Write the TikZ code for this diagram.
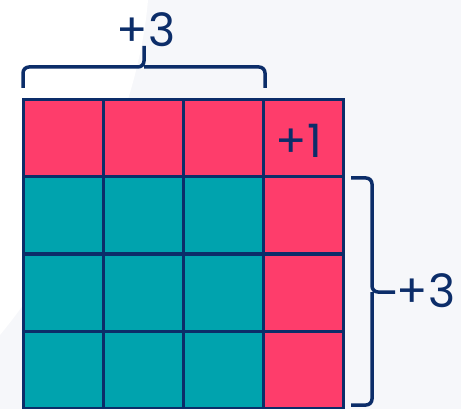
\documentclass[tikz,border=0pt]{standalone}
\usepackage{fontspec}
\setmainfont{Poppins}
\definecolor{navy}{HTML}{0C2D69}
\definecolor{pinkred}{HTML}{FE3D6B}
\definecolor{teal}{HTML}{00A3AE}
\definecolor{paper}{HTML}{F6F7FA}
\begin{document}
\begin{tikzpicture}[x=1pt, y=-1pt, every node/.style={text=navy, font=\fontsize{46}{46}\selectfont}]
\useasboundingbox (0,0) rectangle (461,409);
\fill[paper] (0,0) rectangle (461,409);
\fill[white] (0,0) -- (148,0) .. controls (138,120) and (70,250) .. (0,335) -- cycle;
\fill[pinkred] (23,100) rectangle (343,177);
\fill[pinkred] (263,177) rectangle (343,409);
\fill[teal] (23,177) rectangle (263,409);
\draw[navy, line width=3pt] (23,100) rectangle (343,408);
\draw[navy, line width=3pt] (103,100) -- (103,408);
\draw[navy, line width=3pt] (183,100) -- (183,408);
\draw[navy, line width=3pt] (263,100) -- (263,408);
\draw[navy, line width=3pt] (23,177) -- (343,177);
\draw[navy, line width=3pt] (23,254) -- (343,254);
\draw[navy, line width=3pt] (23,331) -- (343,331);
\draw[navy, line width=3.5pt, rounded corners=6pt] (23,88) -- (23,67) -- (144,67) -- (144,46);
\draw[navy, line width=3.5pt, rounded corners=6pt] (265,88) -- (265,67) -- (144,67);
\draw[navy, line width=3.5pt, rounded corners=6pt] (351,178) -- (372,178) -- (372,292) -- (395,292);
\draw[navy, line width=3.5pt, rounded corners=6pt] (351,405) -- (372,405) -- (372,292);
\node (top) at (146,30) {+3};
\node (corner) at (299,141) {+1};
\node (side) at (426,291) {+3};
\end{tikzpicture}
\end{document}
